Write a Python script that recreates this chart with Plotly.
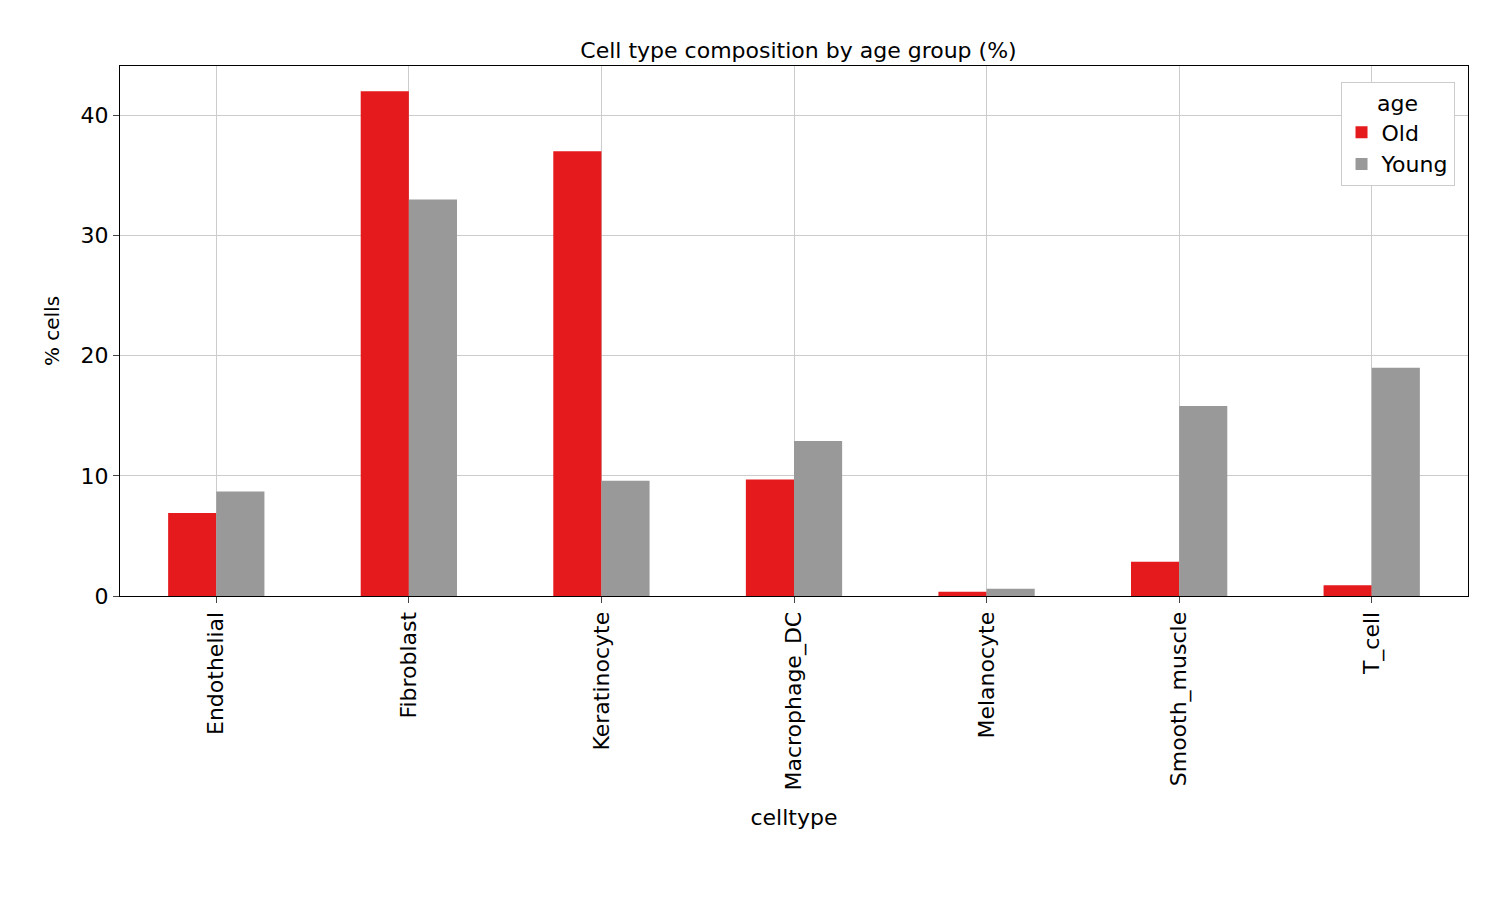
import plotly.graph_objects as go

categories = ["Endothelial", "Fibroblast", "Keratinocyte", "Macrophage_DC", "Melanocyte", "Smooth_muscle", "T_cell"]
old = [6.9, 42.0, 37.0, 9.7, 0.35, 2.85, 0.9]
young = [8.7, 33.0, 9.6, 12.9, 0.6, 15.8, 19.0]

fig = go.Figure()
fig.add_bar(x=categories, y=old, name="Old", marker=dict(color="#e41a1c", line=dict(width=0)))
fig.add_bar(x=categories, y=young, name="Young", marker=dict(color="#999999", line=dict(width=0)))

font = "DejaVu Sans"
fig.update_layout(
    width=1500, height=900, barmode="group", bargap=0.5, bargroupgap=0,
    paper_bgcolor="white", plot_bgcolor="white",
    font=dict(family=font, size=22, color="black"),
    margin=dict(l=112, r=40, t=58, b=312),
    title=dict(text="Cell type composition by age group (%)", x=0.527, xanchor="center", y=0.953, yanchor="middle", font=dict(size=22)),
    legend=dict(title=dict(text="age", side="top center", font=dict(size=22)), x=0.99, y=0.97, xanchor="right", yanchor="top",
                bordercolor="#cccccc", borderwidth=1, font=dict(size=22), tracegroupgap=10),
    showlegend=True,
)
fig.update_xaxes(title=dict(text="celltype", standoff=20, font=dict(size=22)), tickfont=dict(size=22), tickangle=-90,
                 showline=True, linecolor="black", mirror=True,
                 showgrid=True, gridcolor="#cccccc", ticks="outside", ticklen=6, range=[-0.5, 6.5])
fig.update_yaxes(title=dict(text="% cells", font=dict(size=20)), tickfont=dict(size=22), range=[0, 44.1], dtick=10,
                 showline=True, linecolor="black", mirror=True,
                 showgrid=True, gridcolor="#cccccc", ticks="outside", ticklen=6, zeroline=False)
fig.write_html("out.html")
